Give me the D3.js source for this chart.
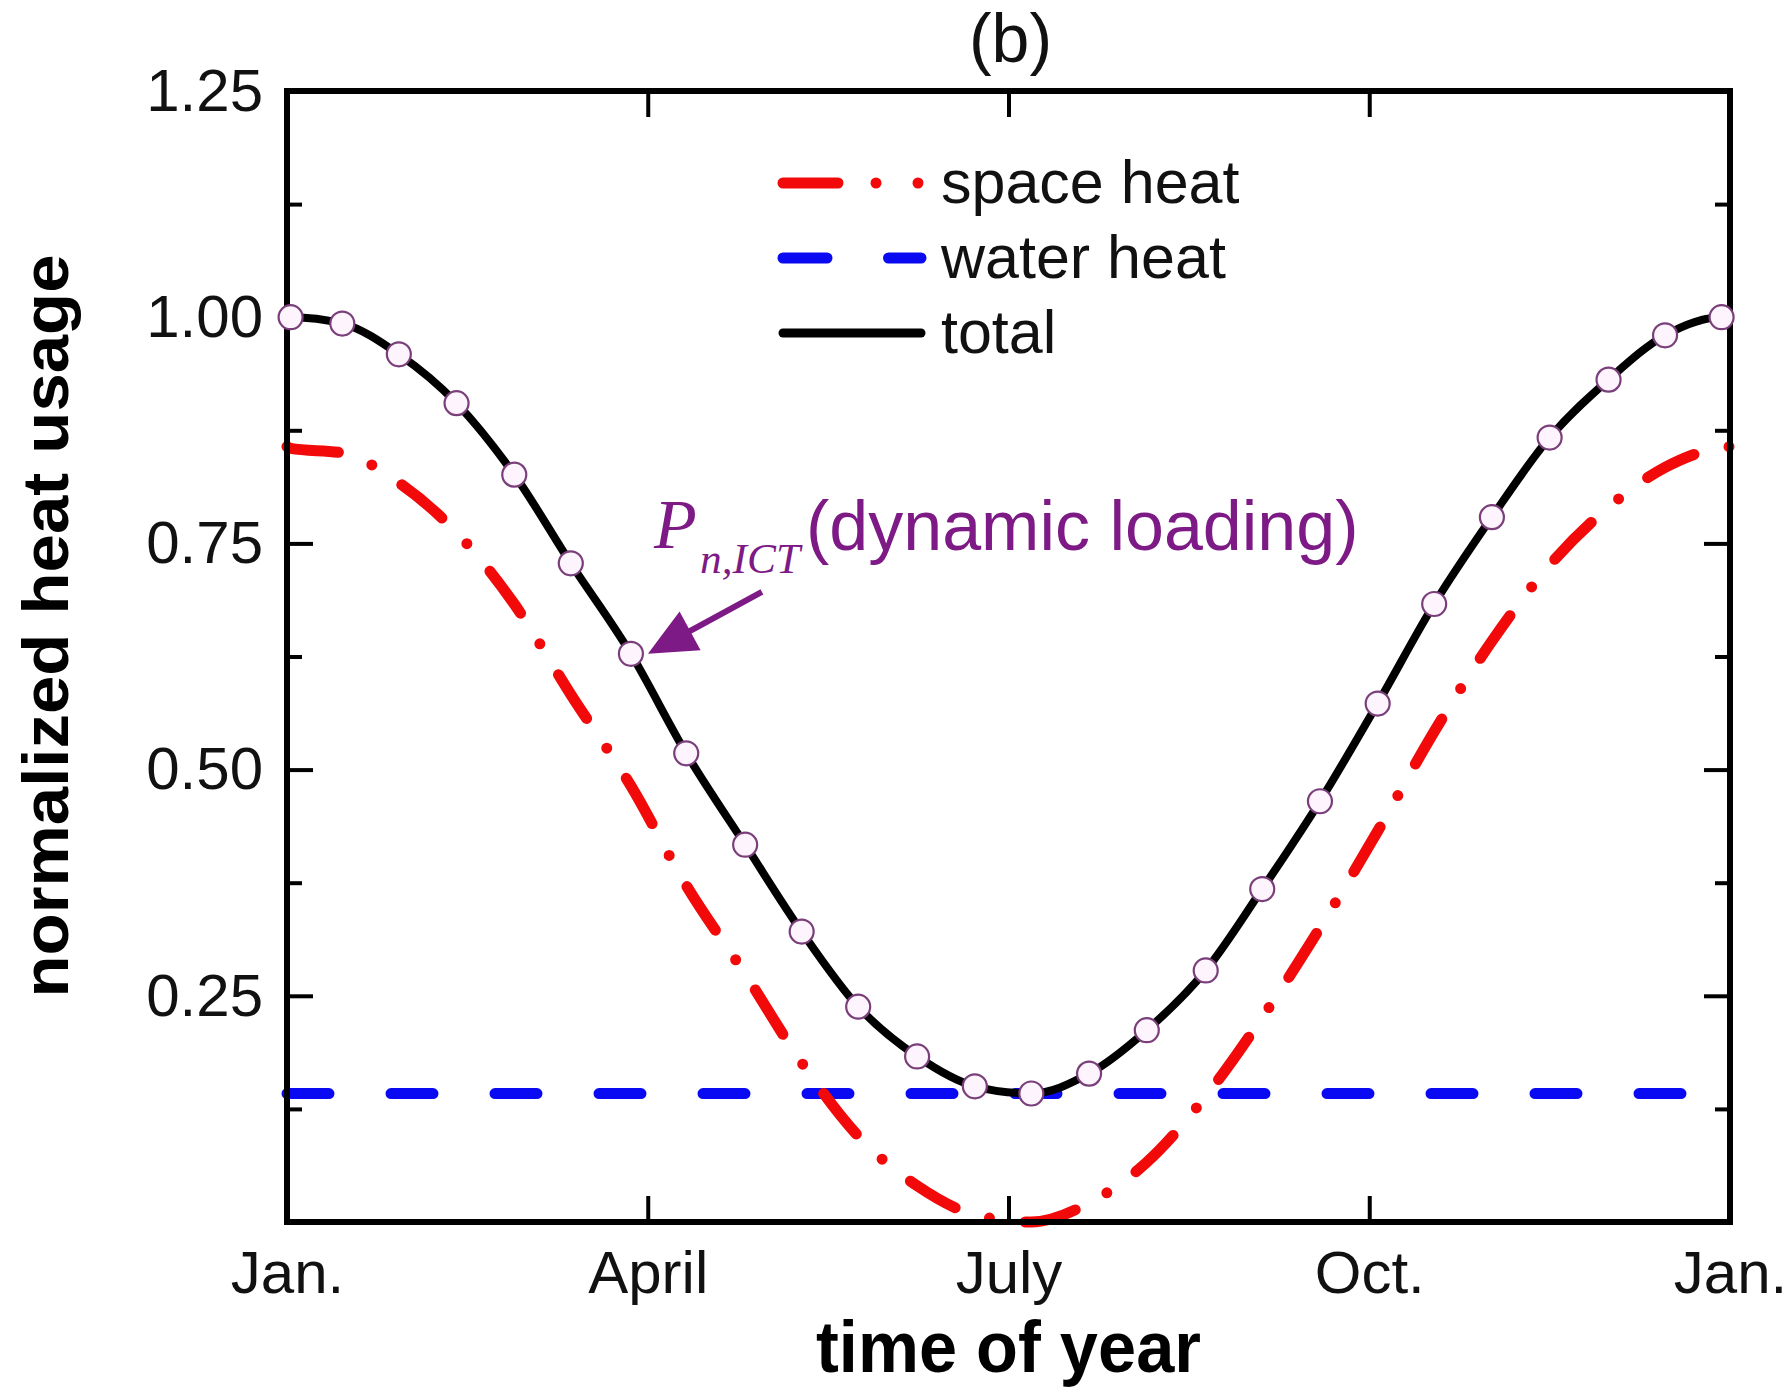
<!DOCTYPE html>
<html>
<head>
<meta charset="utf-8">
<script src="https://cdn.jsdelivr.net/npm/d3@7"></script>
<style>
  body { margin: 0; background: #fff; }
  text { font-family: "Liberation Sans", Arial, sans-serif; }
</style>
</head>
<body>
<div id="chart"></div>
<script>
const width = 1791;
const height = 1397;

// months (0 = Jan.) where the total curve carries a circle marker
const sampleMonths = [0.03, 0.46, 0.93, 1.41, 1.89, 2.36, 2.86, 3.32, 3.81, 4.28, 4.75, 5.24, 5.72,
                      6.19, 6.67, 7.15, 7.64, 8.11, 8.59, 9.07, 9.54, 10.02, 10.50, 10.99, 11.46, 11.93];
const totalHeat = [1.000, 0.993, 0.959, 0.905, 0.826, 0.728, 0.628, 0.518, 0.417, 0.321, 0.238, 0.183, 0.150,
                   0.142, 0.164, 0.212, 0.278, 0.368, 0.465, 0.573, 0.683, 0.779, 0.867, 0.931, 0.980, 1.000];
const spaceHeat = [0.855, 0.850, 0.817, 0.762, 0.683, 0.583, 0.482, 0.372, 0.274, 0.176, 0.095, 0.040, 0.008,
                   0.000, 0.021, 0.066, 0.139, 0.226, 0.325, 0.432, 0.542, 0.642, 0.726, 0.790, 0.834, 0.856];
const waterHeat = 0.142;
// curves run edge to edge (Jan. to Jan.)
const edgeMonths = [0, 12];
const totalEdge = [1.000, 1.000];
const spaceEdge = [0.857, 0.857];

const xTicks = [0, 3, 6, 9, 12];
const xTickLabels = ["Jan.", "April", "July", "Oct.", "Jan."];
const yTicks = [0.25, 0.50, 0.75, 1.00, 1.25];
const yMinorTicks = [0.125, 0.375, 0.625, 0.875, 1.125];

const seriesNames = ["space heat", "water heat", "total"];

const plotLeft = 287, plotRight = 1730, plotTop = 91, plotBottom = 1222;

const svg = d3.select("#chart")
  .append("svg")
  .attr("width", width)
  .attr("height", height)
  .attr("viewBox", [0, 0, width, height]);

svg.append("rect").attr("width", width).attr("height", height).attr("fill", "#fff");

const x = d3.scaleLinear().domain([0, 12]).range([plotLeft, plotRight]);
const y = d3.scaleLinear().domain([0, 1.25]).range([plotBottom, plotTop]);

const withEdges = (xs, ys, ends) => {
  const pts = xs.map((m, i) => [m, ys[i]]);
  return [[edgeMonths[0], ends[0]], ...pts, [edgeMonths[1], ends[1]]];
};

const line = d3.line()
  .x(d => x(d[0]))
  .y(d => y(d[1]))
  .curve(d3.curveMonotoneX);

// ---- curves ----
svg.append("path")
  .datum([[0, waterHeat], [12, waterHeat]])
  .attr("d", line)
  .attr("fill", "none")
  .attr("stroke", "#0a0af2")
  .attr("stroke-width", 11)
  .attr("stroke-linecap", "round")
  .attr("stroke-dasharray", "42 62");

svg.append("path")
  .datum(withEdges(sampleMonths, spaceHeat, spaceEdge))
  .attr("d", line)
  .attr("fill", "none")
  .attr("stroke", "#f20a0a")
  .attr("stroke-width", 11)
  .attr("stroke-linecap", "round")
  .attr("stroke-dasharray", "52 36 0 36");

svg.append("path")
  .datum(withEdges(sampleMonths, totalHeat, totalEdge))
  .attr("d", line)
  .attr("fill", "none")
  .attr("stroke", "#000")
  .attr("stroke-width", 8);

// ---- axes ----
const styleAxis = g => {
  g.select(".domain").remove();
  g.selectAll(".tick line").attr("stroke", "#000").attr("stroke-width", 4);
  g.selectAll(".tick text")
    .attr("fill", "#111")
    .style("font-family", "'Liberation Sans', Arial, sans-serif")
    .style("font-size", "60px");
};

svg.append("g")
  .attr("transform", `translate(${plotLeft},0)`)
  .call(d3.axisLeft(y).tickValues(yTicks).tickSize(-26).tickPadding(24).tickFormat(d3.format(".2f")))
  .call(styleAxis);
svg.append("g")
  .attr("transform", `translate(${plotLeft},0)`)
  .call(d3.axisLeft(y).tickValues(yMinorTicks).tickSize(-15).tickFormat(""))
  .call(styleAxis);
svg.append("g")
  .attr("transform", `translate(${plotRight},0)`)
  .call(d3.axisRight(y).tickValues(yTicks).tickSize(-26).tickFormat(""))
  .call(styleAxis);
svg.append("g")
  .attr("transform", `translate(${plotRight},0)`)
  .call(d3.axisRight(y).tickValues(yMinorTicks).tickSize(-15).tickFormat(""))
  .call(styleAxis);
svg.append("g")
  .attr("transform", `translate(0,${plotBottom})`)
  .call(d3.axisBottom(x).tickValues(xTicks).tickSize(-26).tickPadding(28).tickFormat((d, i) => xTickLabels[i]))
  .call(styleAxis);
svg.append("g")
  .attr("transform", `translate(0,${plotTop})`)
  .call(d3.axisTop(x).tickValues(xTicks).tickSize(-26).tickFormat(""))
  .call(styleAxis);

// frame
svg.append("rect")
  .attr("x", plotLeft).attr("y", plotTop)
  .attr("width", plotRight - plotLeft).attr("height", plotBottom - plotTop)
  .attr("fill", "none")
  .attr("stroke", "#000")
  .attr("stroke-width", 6);

// circle markers sit above the frame
svg.append("g")
  .selectAll("circle")
  .data(sampleMonths.map((m, i) => [m, totalHeat[i]]))
  .join("circle")
  .attr("cx", d => x(d[0]))
  .attr("cy", d => y(d[1]))
  .attr("r", 12)
  .attr("fill", "#fdf4fd")
  .attr("stroke", "#7a3f7a")
  .attr("stroke-width", 2.2);

// ---- titles ----
svg.append("text")
  .attr("x", x(6) + 2).attr("y", 62)
  .attr("text-anchor", "middle")
  .style("font-size", "68px")
  .attr("fill", "#111")
  .text("(b)");

svg.append("text")
  .attr("x", x(6)).attr("y", 1372)
  .attr("text-anchor", "middle")
  .attr("textLength", 385)
  .attr("lengthAdjust", "spacingAndGlyphs")
  .style("font-size", "72px")
  .style("font-weight", "bold")
  .attr("fill", "#000")
  .text("time of year");

svg.append("text")
  .attr("transform", "translate(68,626) rotate(-90)")
  .attr("text-anchor", "middle")
  .attr("textLength", 743)
  .attr("lengthAdjust", "spacingAndGlyphs")
  .style("font-size", "64px")
  .style("font-weight", "bold")
  .attr("fill", "#000")
  .text("normalized heat usage");

// ---- legend ----
const legendStyles = [
  {color: "#f20a0a", width: 11, dash: "55 38 0 42 0 200"},
  {color: "#0a0af2", width: 11, dash: "44 61.5 100"},
  {color: "#000", width: 9, dash: null}
];
const legend = svg.append("g")
  .selectAll("g")
  .data(seriesNames)
  .join("g")
  .attr("transform", (d, i) => `translate(0,${183 + i * 75})`);

legend.append("line")
  .attr("x1", 783).attr("x2", 921)
  .attr("stroke", (d, i) => legendStyles[i].color)
  .attr("stroke-width", (d, i) => legendStyles[i].width)
  .attr("stroke-linecap", "round")
  .attr("stroke-dasharray", (d, i) => legendStyles[i].dash);

legend.append("text")
  .attr("x", 941).attr("y", 20)
  .style("font-size", "61px")
  .attr("fill", "#111")
  .text(d => d);

// ---- annotation: P_n,ICT (dynamic loading) ----
const purple = "#7d1a85";
const tip = [x(sampleMonths[6]) + 17, y(totalHeat[6])];
const tail = [tip[0] + 114, tip[1] - 62];
const ang = Math.atan2(tip[1] - tail[1], tip[0] - tail[0]);
const headLen = 48, headHalf = 22;
const base = [tip[0] - headLen * Math.cos(ang), tip[1] - headLen * Math.sin(ang)];

svg.append("line")
  .attr("x1", tail[0]).attr("y1", tail[1])
  .attr("x2", base[0] + 4 * Math.cos(ang)).attr("y2", base[1] + 4 * Math.sin(ang))
  .attr("stroke", purple)
  .attr("stroke-width", 6);

svg.append("path")
  .attr("d", d3.line()([
    tip,
    [base[0] - headHalf * Math.sin(ang), base[1] + headHalf * Math.cos(ang)],
    [base[0] + headHalf * Math.sin(ang), base[1] - headHalf * Math.cos(ang)]
  ]) + "Z")
  .attr("fill", purple);

const note = svg.append("g").attr("fill", purple);
note.append("text")
  .attr("x", 654).attr("y", 548)
  .style("font-family", "'Liberation Serif', 'Times New Roman', serif")
  .style("font-style", "italic")
  .style("font-size", "70px")
  .text("P");
note.append("text")
  .attr("x", 700).attr("y", 573)
  .attr("textLength", 100)
  .attr("lengthAdjust", "spacingAndGlyphs")
  .style("font-family", "'Liberation Serif', 'Times New Roman', serif")
  .style("font-style", "italic")
  .style("font-size", "42px")
  .text("n,ICT");
note.append("text")
  .attr("x", 806).attr("y", 550)
  .style("font-size", "70px")
  .text("(dynamic loading)");
</script>
</body>
</html>
